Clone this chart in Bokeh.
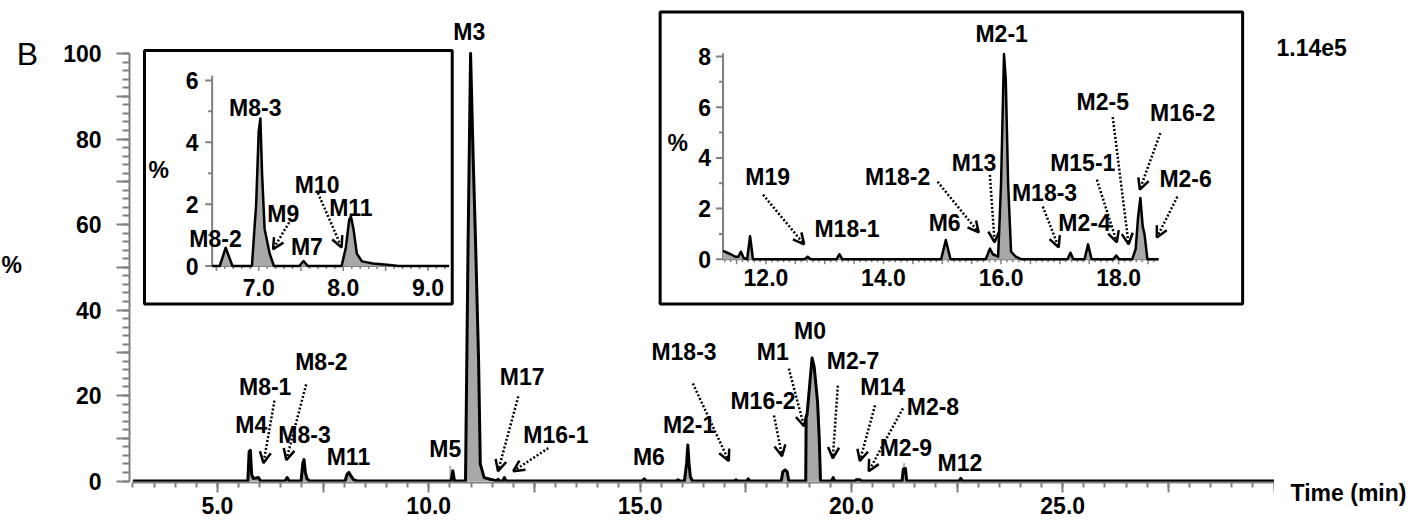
import numpy as np
from bokeh.plotting import figure
from bokeh.layouts import row
from bokeh.models import Range1d, FixedTicker, Arrow, OpenHead, ColumnDataSource
from bokeh.embed import file_html
from bokeh.resources import INLINE
from bokeh.core.properties import value

# ---------------- data: main chromatogram (time, min ; relative abundance, %) ----------------
main_time = [3.00,
             5.72, 5.75, 5.78, 5.81, 5.85, 5.92, 5.97, 6.02,
             6.60, 6.65, 6.70,
             6.98, 7.02, 7.05, 7.08, 7.12, 7.18,
             8.02, 8.07, 8.11, 8.16, 8.22, 8.30,
             10.53, 10.57, 10.61,
             10.87, 10.93, 10.99, 11.05, 11.11, 11.18, 11.22, 11.31, 11.45, 11.55,
             11.60, 11.64, 11.68, 11.75, 11.79, 11.83,
             15.05, 15.10, 15.15,
             15.86, 15.90, 15.94,
             16.05, 16.10, 16.13, 16.16, 16.19, 16.24,
             17.23, 17.27, 17.31,
             17.52, 17.56, 17.60,
             18.34, 18.38, 18.43, 18.48, 18.52,
             18.92, 18.93, 18.95, 19.01, 19.07, 19.12, 19.20, 19.24, 19.27,
             19.53, 19.57, 19.61,
             20.08, 20.12, 20.20, 20.24,
             21.20, 21.23, 21.28, 21.31,
             22.55, 22.59, 22.63,
             30.00]
main_int = [0,
            0, 6.8, 7.2, 1.5, 0.6, 0.7, 0.8, 0,
            0, 0.8, 0,
            0, 4.2, 5.0, 2.0, 0.5, 0,
            0, 1.6, 2.0, 1.2, 0.3, 0,
            0, 2.4, 0,
            0, 55, 100, 76, 55, 28, 4, 0.8, 0.4, 0.2,
            0, 0.4, 0, 0, 0.8, 0,
            0, 0.5, 0,
            0, 0.3, 0,
            0, 4.0, 8.4, 4.0, 1.0, 0,
            0, 0.3, 0,
            0, 0.5, 0,
            0, 2.2, 2.6, 2.2, 0,
            0, 15.0, 15.4, 22.0, 28.8, 26.7, 18.5, 10.0, 0,
            0, 0.8, 0,
            0, 0.3, 0.3, 0,
            0, 2.8, 2.9, 0,
            0, 0.6, 0,
            0]
# thin grey spikes
spike_time = [10.51, 21.25]
spike_int = [3.5, 4.2]

# labels of the main trace
main_lab = ["M3", "M4", "M8-1", "M8-2", "M8-3", "M11", "M5", "M17", "M16-1", "M6", "M2-1",
            "M18-3", "M1", "M0", "M16-2", "M2-7", "M14", "M2-8", "M2-9", "M12"]
main_lab_t = [10.96, 5.80, 6.13, 7.46, 7.06, 8.10, 10.39, 12.21, 13.01, 15.21, 16.16,
              16.04, 18.14, 19.02, 17.91, 20.04, 20.74, 21.93, 21.29, 22.57]
main_lab_y = [105.1, 13.0, 22.1, 27.9, 10.7, 5.6, 7.4, 24.4, 10.7, 5.6, 13.0,
              30.2, 30.2, 35.1, 18.8, 28.1, 22.1, 17.4, 7.7, 4.2]
# arrows of the main trace (from label towards peak)
main_arr_t0 = [6.35, 7.10, 12.12, 12.83, 16.25, 18.52, 18.17, 19.68, 20.56, 21.22]
main_arr_y0 = [18.8, 22.6, 19.8, 7.7, 22.8, 26.3, 15.3, 22.3, 17.7, 17.0]
main_arr_t1 = [6.09, 6.63, 11.64, 12.00, 17.10, 18.88, 18.36, 19.56, 20.20, 20.41]
main_arr_y1 = [4.2, 4.9, 2.3, 2.3, 4.7, 12.8, 5.8, 5.3, 4.7, 2.3]

main_xticks = [5, 7.5, 10, 12.5, 15, 17.5, 20, 22.5, 25, 27.5, 30]
main_xlabels = {5: "5.0", 7.5: "", 10: "10.0", 12.5: "", 15: "15.0", 17.5: "",
                20: "20.0", 22.5: "", 25: "25.0", 27.5: "", 30: ""}
main_yticks = [0, 10, 20, 30, 40, 50, 60, 70, 80, 90, 100]
main_ylabels = {10: "", 30: "", 50: "", 70: "", 90: ""}

# ---------------- inset 1 (6.5 - 9.2 min) ----------------
ins1_time = [6.45, 6.54, 6.61, 6.69,
             6.92, 6.97, 7.00, 7.02, 7.04, 7.07, 7.10, 7.13, 7.18,
             7.48, 7.53, 7.58,
             7.98, 8.03, 8.07, 8.09, 8.12, 8.16, 8.22, 8.35, 8.55, 8.65,
             9.25]
ins1_int = [0, 0, 0.59, 0,
            0, 2.0, 4.34, 4.77, 3.0, 1.2, 0.8, 0.4, 0,
            0, 0.16, 0,
            0, 0.6, 1.5, 1.6, 1.2, 0.4, 0.15, 0.08, 0.03, 0,
            0]
ins1_lab = ["M8-3", "M8-2", "M9", "M7", "M10", "M11"]
ins1_lab_t = [6.96, 6.49, 7.29, 7.57, 7.69, 8.09]
ins1_lab_y = [5.10, 0.86, 1.69, 0.63, 2.63, 1.89]
ins1_arr_t0 = [7.36, 7.70]
ins1_arr_y0 = [1.41, 2.36]
ins1_arr_t1 = [7.17, 7.98]
ins1_arr_y1 = [0.54, 0.60]
ins1_xticks = [7, 8, 9]
ins1_xlabels = ["7.0", "8.0", "9.0"]
ins1_yticks = [0, 2, 4, 6]

# ---------------- inset 2 (11.3 - 18.7 min) ----------------
ins2_time = [11.27, 11.40, 11.48, 11.53, 11.575, 11.62, 11.68, 11.73, 11.78,
             12.66, 12.71, 12.76,
             13.20, 13.25, 13.30,
             14.98, 15.06, 15.14,
             15.74, 15.81, 15.86, 15.91, 15.95,
             16.00, 16.05, 16.08, 16.12, 16.17, 16.25, 16.35,
             17.13, 17.18, 17.23,
             17.42, 17.48, 17.54,
             17.91, 17.96, 18.01,
             18.23, 18.29, 18.33, 18.37, 18.41, 18.44, 18.49,
             18.68]
ins2_int = [0.33, 0.2, 0.1, 0.1, 0.3, 0.05, 0, 0.91, 0,
            0, 0.1, 0,
            0, 0.2, 0,
            0, 0.76, 0,
            0, 0.42, 0.2, 0.15, 0.1,
            3.0, 8.1, 7.1, 3.0, 0.3, 0.1, 0,
            0, 0.26, 0,
            0, 0.59, 0,
            0, 0.15, 0,
            0, 0.4, 1.63, 2.42, 1.3, 1.0, 0,
            0]
ins2_lab = ["M2-1", "M19", "M18-1", "M18-2", "M13", "M6", "M18-3", "M2-4", "M15-1",
            "M2-5", "M16-2", "M2-6"]
ins2_lab_t = [16.01, 12.03, 13.38, 14.24, 15.54, 15.04, 16.74, 17.42, 17.39,
              17.73, 19.09, 19.14]
ins2_lab_y = [8.90, 3.25, 1.18, 3.25, 3.80, 1.45, 2.63, 1.45, 3.80,
              6.20, 5.76, 3.18]
ins2_arr_t0 = [11.95, 14.92, 15.81, 16.71, 17.63, 17.90, 18.71, 19.00]
ins2_arr_y0 = [2.55, 3.06, 3.33, 2.08, 3.14, 5.61, 4.98, 2.47]
ins2_arr_t1 = [12.65, 15.62, 15.89, 16.98, 17.97, 18.17, 18.36, 18.65]
ins2_arr_y1 = [0.59, 1.06, 0.67, 0.47, 0.67, 0.59, 2.75, 0.86]
ins2_xticks = [12, 14, 16, 18]
ins2_xlabels = ["12.0", "14.0", "16.0", "18.0"]
ins2_yticks = [0, 2, 4, 6, 8]

# ---------------- layout (canvas px) ----------------
W, H = 1422, 523
AX_W = 68                     # width of the main y-axis panel
FL = 128                      # main frame left (y-axis line)
X_M = FL - AX_W               # left text strip | main plot
X_R = 1274                    # main plot | right text strip
FB = 482                      # frame bottom
BOTTOM = H - FB

MX, MY = 42.3, 4.275          # main px per min / per %
I1X, I1Y = 84.7, 30.93
I2X, I2Y = 58.83, 25.35


def xr(v, px, s, lo, hi):
    return Range1d(v - (px - lo) / s, v + (hi - px) / s)


def yr(v, py, s, top, bottom):
    return Range1d(v - (bottom - py) / s, v + (py - top) / s)


FONT = "Liberation Sans"
GREY = "#808080"
FILL = "#a8a8a8"

YR = yr(0.0, 480.5, MY, 0, FB)


def base_fig(width, x_range, y_range, **kw):
    f = figure(width=width, height=H, x_range=x_range, y_range=y_range,
               output_backend="svg", toolbar_location=None,
               outline_line_color=None, background_fill_color="white",
               border_fill_color="white", min_border_top=0, min_border_bottom=BOTTOM, **kw)
    f.grid.visible = False
    return f


def text(fig, xs, ys, labels, rn=None, align="center", size="23px", style="bold"):
    kw = {}
    if rn:
        kw = dict(x_range_name=rn, y_range_name=rn)
    fig.text(x=xs, y=ys, text=labels, text_align=align, text_baseline="middle",
             text_font=value(FONT), text_font_size=size, text_font_style=style,
             text_color="black", **kw)


# ---- left strip: panel letter and y-axis title ----
pl = base_fig(X_M, xr(5.0, 216, MX, 0, X_M), YR,
              x_axis_location=None, y_axis_location=None,
              min_border_left=0, min_border_right=0)
text(pl, [0.53], [99.8], ["B"], size="32px", style="normal")
text(pl, [0.16], [50.5], ["%"])

# ---- main plot ----
p = base_fig(X_R - X_M, xr(5.0, 216, MX, FL, X_R), YR,
             min_border_left=AX_W, min_border_right=0)
p.extra_x_ranges = {"i1": xr(7.0, 257.3, I1X, FL, X_R), "i2": xr(12.0, 765, I2X, FL, X_R)}
p.extra_y_ranges = {"i1": yr(0.0, 265.5, I1Y, 0, FB), "i2": yr(0.0, 258.8, I2Y, 0, FB)}

for ax in (p.xaxis[0], p.yaxis[0]):
    ax.axis_line_color = GREY
    ax.axis_line_width = 2
    ax.major_tick_line_color = GREY
    ax.major_tick_line_width = 2
    ax.minor_tick_line_color = GREY
    ax.minor_tick_line_width = 2
    ax.major_tick_in = 0
    ax.minor_tick_in = 0
    ax.major_label_text_font = FONT
    ax.major_label_text_font_size = "23px"
    ax.major_label_text_font_style = "bold"
    ax.major_label_text_color = "black"

xa = p.xaxis[0]
xa.bounds = (3, 30)
xa.ticker = FixedTicker(ticks=main_xticks, minor_ticks=list(np.round(np.arange(3.0, 30.01, 0.5), 2)))
xa.major_label_overrides = main_xlabels
xa.major_tick_out = 10
xa.minor_tick_out = 5
xa.major_label_standoff = 4

ya = p.yaxis[0]
ya.bounds = (0, 100)
ya.ticker = FixedTicker(ticks=main_yticks, minor_ticks=list(range(0, 101, 2)))
ya.major_label_overrides = main_ylabels
ya.major_tick_out = 13
ya.minor_tick_out = 7
ya.major_label_standoff = 15


def arrows(t0, y0, t1, y1, rn="default"):
    src = ColumnDataSource(dict(x0=t0, y0=y0, x1=t1, y1=y1))
    p.add_layout(Arrow(x_start="x0", y_start="y0", x_end="x1", y_end="y1", source=src,
                       line_color="black", line_width=2.5, line_dash="2 2",
                       end=OpenHead(size=11, line_width=2.5, line_color="black"),
                       x_range_name=rn, y_range_name=rn))


# main trace
p.varea(x=main_time, y1=[0] * len(main_time), y2=main_int, fill_color=FILL)
p.segment(x0=spike_time, y0=[0] * len(spike_time), x1=spike_time, y1=spike_int,
          line_color="#b0b0b0", line_width=2)
p.line(x=main_time, y=main_int, line_color="black", line_width=3, line_join="round")
text(p, main_lab_t, main_lab_y, main_lab)
arrows(main_arr_t0, main_arr_y0, main_arr_t1, main_arr_y1)


def inset(rn, sx, sy, x_lo, x_hi, y_top, box, times, ints, xt, xl, yt, ylab_x, xlab_y,
          pct, labs, lt, ly, a0, b0, a1, b1):
    kw = dict(x_range_name=rn, y_range_name=rn)
    p.quad(left=[box[0]], right=[box[1]], top=[box[2]], bottom=[box[3]],
           fill_color="white", line_color="black", line_width=3, **kw)
    # axes
    p.segment(x0=[x_lo, x_lo], y0=[0, 0], x1=[x_lo, x_hi], y1=[y_top, 0],
              line_color=GREY, line_width=2, **kw)
    yminor = [v + 1 for v in yt[:-1]]
    p.segment(x0=[x_lo] * len(yt), y0=yt, x1=[x_lo - 7 / sx] * len(yt), y1=yt,
              line_color=GREY, line_width=2, **kw)
    p.segment(x0=[x_lo] * len(yminor), y0=yminor, x1=[x_lo - 4 / sx] * len(yminor), y1=yminor,
              line_color=GREY, line_width=2, **kw)
    tk = list(np.round(np.arange(np.ceil(x_lo * 10) / 10, x_hi, 0.1), 2))
    tlen = [(5 if abs(v * 2 - round(v * 2)) < 1e-6 else 3) / sy for v in tk]
    p.segment(x0=tk, y0=[0] * len(tk), x1=tk, y1=[-l for l in tlen],
              line_color=GREY, line_width=1.5, **kw)
    # trace
    p.varea(x=times, y1=[0] * len(times), y2=ints, fill_color=FILL, **kw)
    p.line(x=times, y=ints, line_color="black", line_width=2.5, line_join="round", **kw)
    # tick labels, titles, annotations
    text(p, xt, [xlab_y] * len(xt), xl, rn)
    text(p, [ylab_x] * len(yt), yt, [str(v) for v in yt], rn, align="right")
    text(p, [pct[0]], [pct[1]], ["%"], rn)
    text(p, lt, ly, labs, rn)
    arrows(a0, b0, a1, b1, rn)


inset("i1", I1X, I1Y, 6.45, 9.25, 6.15, (5.651, 9.287, 6.97, -1.23),
      ins1_time, ins1_int, ins1_xticks, ins1_xlabels, ins1_yticks, 6.288, -0.68,
      (5.82, 3.11), ins1_lab, ins1_lab_t, ins1_lab_y,
      ins1_arr_t0, ins1_arr_y0, ins1_arr_t1, ins1_arr_y1)
inset("i2", I2X, I2Y, 11.27, 18.68, 8.13, (10.20, 20.11, 9.76, -1.76),
      ins2_time, ins2_int, ins2_xticks, ins2_xlabels, ins2_yticks, 11.065, -0.71,
      (10.50, 4.59), ins2_lab, ins2_lab_t, ins2_lab_y,
      ins2_arr_t0, ins2_arr_y0, ins2_arr_t1, ins2_arr_y1)

# ---- right strip: scale factor and x-axis title ----
R_X = xr(5.0, 216, MX, X_R, W)
pr = base_fig(W - X_R, R_X, YR, y_axis_location=None,
              min_border_left=0, min_border_right=0)
text(pr, [30.06], [101.4], ["1.14e5"], align="left")
rx = pr.xaxis[0]
rx.bounds = (R_X.start, R_X.end)
rx.ticker = FixedTicker(ticks=[], minor_ticks=[])
rx.axis_line_color = None
rx.major_tick_line_color = None
rx.minor_tick_line_color = None
rx.major_label_text_font_size = "0px"
rx.axis_label = "Time (min)"
rx.axis_label_text_font = FONT
rx.axis_label_text_font_size = "23px"
rx.axis_label_text_font_style = "bold"
rx.axis_label_text_color = "black"
rx.axis_label_standoff = -3

layout = row(pl, p, pr, spacing=0)
open("out.html", "w").write(file_html(layout, INLINE))
